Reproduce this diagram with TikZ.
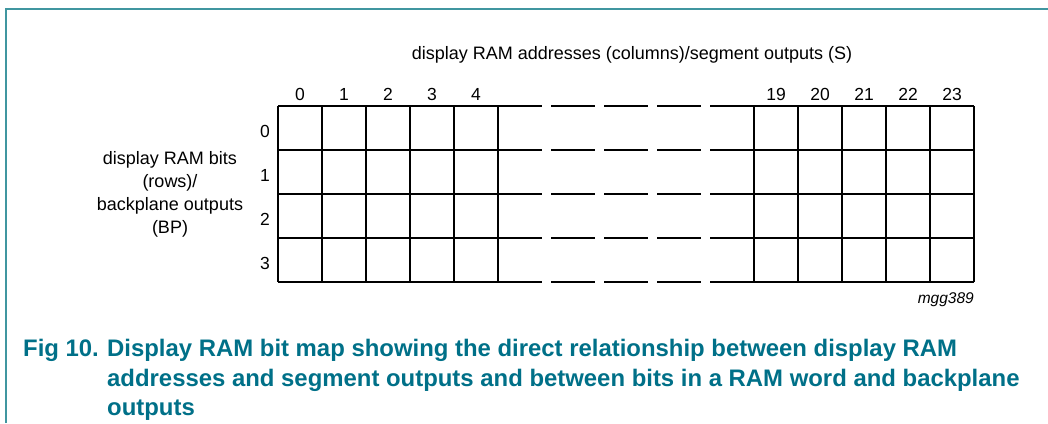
\documentclass[tikz,border=0pt]{standalone}
\usepackage{fontspec}
\setmainfont{Liberation Sans}
\usetikzlibrary{positioning}
\definecolor{capteal}{RGB}{0,112,136}
\definecolor{frameteal}{RGB}{64,150,160}
\tikzset{
    gridline/.style={draw, line width=1.2pt},
    gapline/.style={gridline, dash pattern=on 44pt off 9pt},
    idx/.style={inner sep=0pt, font=\fontsize{17.5}{21}\selectfont},
    label/.style={inner sep=0pt, align=center, font=\fontsize{18}{23}\selectfont},
    figcap/.style={inner sep=0pt, text=capteal, align=left, font=\bfseries\fontsize{23.9}{29.5}\selectfont}
}

\begin{document}
\begin{tikzpicture}[x=1pt, y=-1pt]
    \useasboundingbox (0,0) rectangle (1048,423);

    % frame
    \draw [frameteal, line width=1.5pt] (6,423) -- (6,9) -- (1048,9);

    % axis titles
    \node [label, anchor=base] (addrTitle) at (632,59.5) {display RAM addresses (columns)/segment outputs (S)};
    \node [label] (bitTitle) at (170,194.5) {display RAM bits\\(rows)/\\backplane outputs\\(BP)};

    % grid rows
    \foreach \y in {106,150,194,238,282} {
        \draw [gridline] (278,\y) -- (498,\y);
        \draw [gapline] (498,\y) -- (754,\y);
        \draw [gridline] (754,\y) -- (974,\y);
    }
    % grid columns
    \foreach \x in {278,322,366,410,454,498,754,798,842,886,930,974}
        \draw [gridline] (\x,106) -- (\x,282);

    % column numbers
    \foreach \c in {0,...,4}
        \node [idx] (colLbl\c) at (300+44*\c,94) {\c};
    \foreach \c in {19,...,23}
        \node [idx] (colLbl\c) at (776+44*\c-836,94) {\c};

    % row numbers
    \foreach \r in {0,...,3}
        \node [idx] (rowLbl\r) at (265,131.5+44*\r) {\r};

    \node [inner sep=0pt, anchor=base east, font=\itshape\fontsize{15.5}{18}\selectfont] (figTag) at (974,303) {mgg389};

    % caption (base of a multi-line node sits on its last line)
    \node [figcap, anchor=base west] (figNum) at (23,356.5) {Fig 10.};
    \node [figcap, anchor=base west] (figText) at (107,415.5) {Display RAM bit map showing the direct relationship between display RAM\\addresses and segment outputs and between bits in a RAM word and backplane\\outputs};
\end{tikzpicture}
\end{document}
